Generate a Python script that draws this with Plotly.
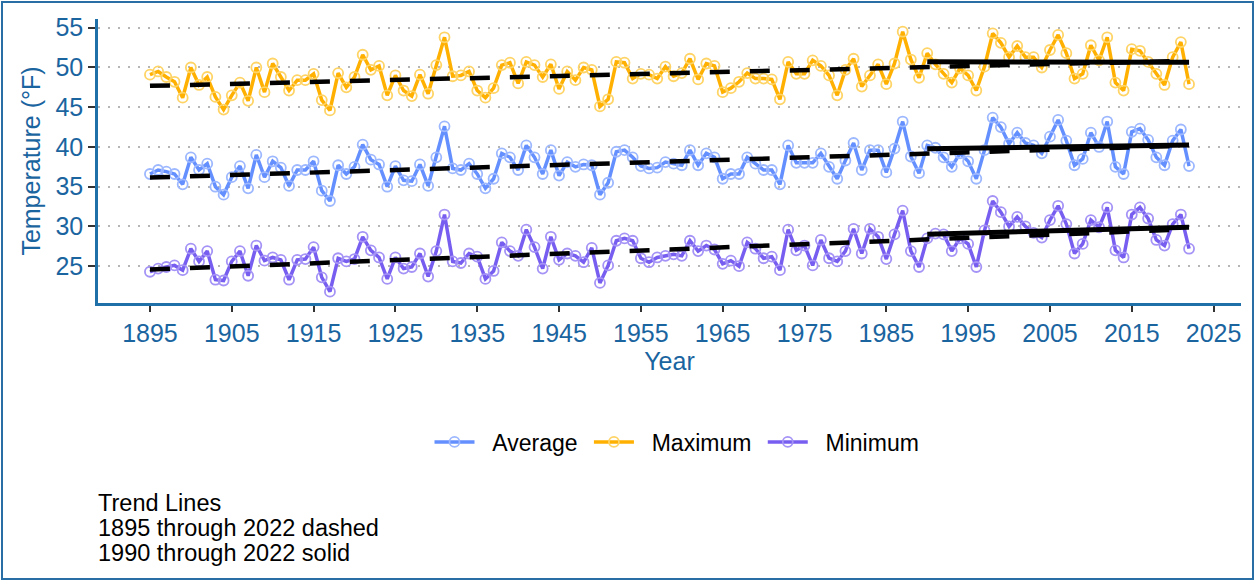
import numpy as np
import plotly.graph_objects as go

years = list(range(1895, 2023))

maximum = [
    49.1, 49.5, 48.8, 48.2, 46.2, 50.0, 47.8, 48.8, 46.3, 44.7,
    46.5, 48.1, 45.8, 50.0, 46.9, 50.5, 48.8, 47.1, 48.4, 48.4,
    49.2, 45.9, 44.6, 49.3, 47.5, 48.8, 51.6, 49.7, 50.2, 46.5,
    49.0, 47.1, 46.4, 49.1, 46.7, 50.3, 53.8, 48.9, 49.0, 49.5,
    47.1, 46.2, 47.4, 50.3, 50.6, 48.0, 50.7, 50.3, 48.8, 50.4,
    47.3, 49.5, 48.4, 50.0, 49.7, 45.1, 46.0, 50.7, 50.6, 48.6,
    49.2, 49.1, 48.6, 50.1, 48.9, 49.3, 51.1, 48.5, 50.5, 50.2,
    46.9, 47.4, 48.2, 49.3, 48.6, 48.6, 48.5, 46.0, 50.7, 49.2,
    49.2, 50.9, 50.2, 49.0, 46.5, 49.7, 51.1, 47.6, 49.0, 50.4,
    47.9, 50.5, 54.5, 51.0, 48.7, 51.8, 50.4, 49.2, 48.1, 49.9,
    49.0, 47.1, 50.1, 54.3, 53.1, 51.3, 52.7, 51.3, 51.3, 50.0,
    52.2, 54.1, 51.8, 48.6, 49.2, 52.8, 50.9, 53.8, 48.1, 47.1,
    52.3, 52.1, 50.7, 49.2, 47.8, 51.3, 53.2, 47.9,
]

average = [
    36.6, 37.1, 36.9, 36.6, 35.3, 38.7, 37.1, 37.9, 35.0, 34.0,
    36.2, 37.6, 34.8, 39.0, 36.2, 38.2, 37.4, 35.1, 37.1, 37.1,
    38.2, 34.5, 33.2, 37.7, 36.6, 37.5, 40.3, 38.4, 37.8, 35.0,
    37.6, 35.8, 35.7, 37.8, 35.1, 38.7, 42.6, 37.3, 37.1, 37.9,
    36.6, 34.8, 36.0, 39.2, 38.7, 37.1, 40.2, 38.7, 36.6, 39.6,
    36.4, 38.1, 37.5, 37.8, 37.7, 34.0, 35.5, 39.4, 39.6, 38.7,
    37.6, 37.3, 37.4, 38.1, 37.9, 37.7, 39.6, 37.7, 39.2, 38.7,
    36.0, 36.6, 36.6, 38.7, 37.9, 37.1, 37.1, 35.3, 40.2, 38.0,
    38.0, 38.0, 39.2, 37.5, 36.0, 38.3, 40.5, 37.1, 39.6, 39.6,
    36.8, 39.8, 43.2, 38.8, 36.7, 40.2, 39.9, 38.7, 37.5, 39.2,
    38.2, 36.0, 39.6, 43.7, 42.5, 40.4, 41.8, 40.5, 40.2, 39.2,
    41.3, 43.4, 40.8, 37.7, 38.5, 41.8, 40.0, 43.2, 37.5, 36.6,
    41.9, 42.3, 40.9, 38.7, 37.7, 40.8, 42.2, 37.6,
]

minimum = [
    24.3, 24.7, 24.9, 25.1, 24.5, 27.2, 25.6, 26.9, 23.3, 23.2,
    25.6, 26.9, 23.8, 27.6, 25.7, 26.1, 25.8, 23.3, 25.8, 25.9,
    27.4, 23.6, 21.8, 26.0, 25.6, 25.9, 28.7, 27.0, 26.1, 23.4,
    26.1, 24.7, 24.9, 26.6, 23.7, 26.9, 31.5, 25.6, 25.4, 26.6,
    26.2, 23.4, 24.4, 28.0, 26.9, 26.3, 29.6, 27.4, 24.7, 28.7,
    25.8, 26.6, 26.3, 25.5, 27.3, 22.9, 25.1, 28.2, 28.5, 28.2,
    26.0, 25.5, 26.1, 26.3, 26.5, 26.3, 28.2, 26.9, 27.6, 27.1,
    25.3, 25.7, 25.0, 28.0, 27.2, 26.0, 26.2, 24.5, 29.6, 27.0,
    27.6, 25.1, 28.3, 26.0, 25.6, 26.9, 29.7, 26.6, 29.7, 28.7,
    25.9, 29.0, 32.0, 26.9, 24.9, 28.5, 29.1, 29.0, 26.9, 28.5,
    27.8, 24.9, 29.5, 33.2, 31.8, 30.0, 31.2, 30.0, 29.2, 28.6,
    30.8, 32.6, 30.3, 26.6, 27.8, 30.8, 29.9, 32.4, 27.0, 26.1,
    31.5, 32.4, 31.0, 28.3, 27.6, 30.3, 31.5, 27.2,
]

x_ticks = list(range(1895, 2026, 10))
y_ticks = [25, 30, 35, 40, 45, 50, 55]
note_lines = ["Trend Lines", "1895 through 2022 dashed", "1990 through 2022 solid"]

series = [
    ("Average", average, "#648FFF", "#9DB8FF"),
    ("Maximum", maximum, "#FFB000", "#FFD466"),
    ("Minimum", minimum, "#785EF0", "#A593F6"),
]

AX = "#1A64A0"
FONT = "Liberation Sans, Arial, sans-serif"
NB = "\u00a0"

fig = go.Figure()
for name, vals, col, mcol in series:
    fig.add_trace(go.Scatter(
        x=years, y=vals, name=NB * 2 + name + NB, mode="lines+markers",
        line=dict(color=col, width=3.5),
        marker=dict(symbol="circle-open", size=10, color=mcol, line=dict(width=1.8, color=mcol)),
        hoverinfo="skip",
    ))

yr = np.array(years, dtype=float)
for name, vals, col, mcol in series:
    v = np.array(vals, dtype=float)
    k, b = np.polyfit(yr, v, 1)
    fig.add_trace(go.Scatter(
        x=[years[0], years[-1]], y=[k * years[0] + b, k * years[-1] + b],
        mode="lines", line=dict(color="black", width=4.5, dash="20px,20px"),
        showlegend=False, hoverinfo="skip",
    ))
    m = yr >= 1990
    k2, b2 = np.polyfit(yr[m], v[m], 1)
    fig.add_trace(go.Scatter(
        x=[1990, years[-1]], y=[k2 * 1990 + b2, k2 * years[-1] + b2],
        mode="lines", line=dict(color="black", width=5),
        showlegend=False, hoverinfo="skip",
    ))

L, R, T, B = 98, 16, 19, 279
pw = 1257 - L - R
ph = 582 - T - B

def px_to_paper_x(px):
    return (px - L) / pw

def px_to_paper_y(py):
    return (582 - B - py) / ph

for i, txt in enumerate(note_lines):
    fig.add_annotation(
        text=txt, xref="paper", yref="paper",
        x=px_to_paper_x(96), y=px_to_paper_y(503 + 25 * i),
        xanchor="left", yanchor="middle", showarrow=False,
        font=dict(size=23.5, color="black", family=FONT),
    )

fig.add_shape(
    type="rect", xref="paper", yref="paper",
    x0=px_to_paper_x(2), x1=px_to_paper_x(1253),
    y0=px_to_paper_y(579), y1=px_to_paper_y(2),
    line=dict(color="#2A6EA6", width=2), fillcolor="rgba(0,0,0,0)", layer="below",
)

fig.update_layout(
    width=1257, height=582,
    margin=dict(l=L, r=R, t=T, b=B),
    paper_bgcolor="white", plot_bgcolor="white",
    font=dict(family=FONT, color=AX),
    showlegend=True,
    legend=dict(
        orientation="h", x=px_to_paper_x(680), xanchor="center",
        y=px_to_paper_y(442), yanchor="middle",
        font=dict(size=23, color="black", family=FONT),
        bgcolor="rgba(0,0,0,0)", itemwidth=40,
    ),
    xaxis=dict(
        range=[1888.65, 2028.35], tickvals=x_ticks,
        showgrid=False, zeroline=False,
        showline=True, linecolor="#1F6FA8", linewidth=2.5,
        ticks="outside", ticklen=6, tickwidth=2, tickcolor="#333333",
        tickfont=dict(size=25, color=AX, family=FONT),
        title=dict(text="Year", font=dict(size=25, color=AX, family=FONT), standoff=2),
    ),
    yaxis=dict(
        range=[20.37, 56.1], tickvals=y_ticks,
        showgrid=True, gridcolor="#B5B5B5", gridwidth=2, griddash="2px,8px",
        zeroline=False,
        showline=True, linecolor="#1F6FA8", linewidth=2.5,
        ticks="outside", ticklen=7, tickwidth=2, tickcolor="#333333",
        tickfont=dict(size=25, color=AX, family=FONT),
        title=dict(text="Temperature (°F)", font=dict(size=25, color=AX, family=FONT), standoff=8),
    ),
)

fig.write_html(
    "out.html",
    config={"displayModeBar": False},
    post_script="document.body.style.margin='0';document.body.style.overflow='hidden';",
)
